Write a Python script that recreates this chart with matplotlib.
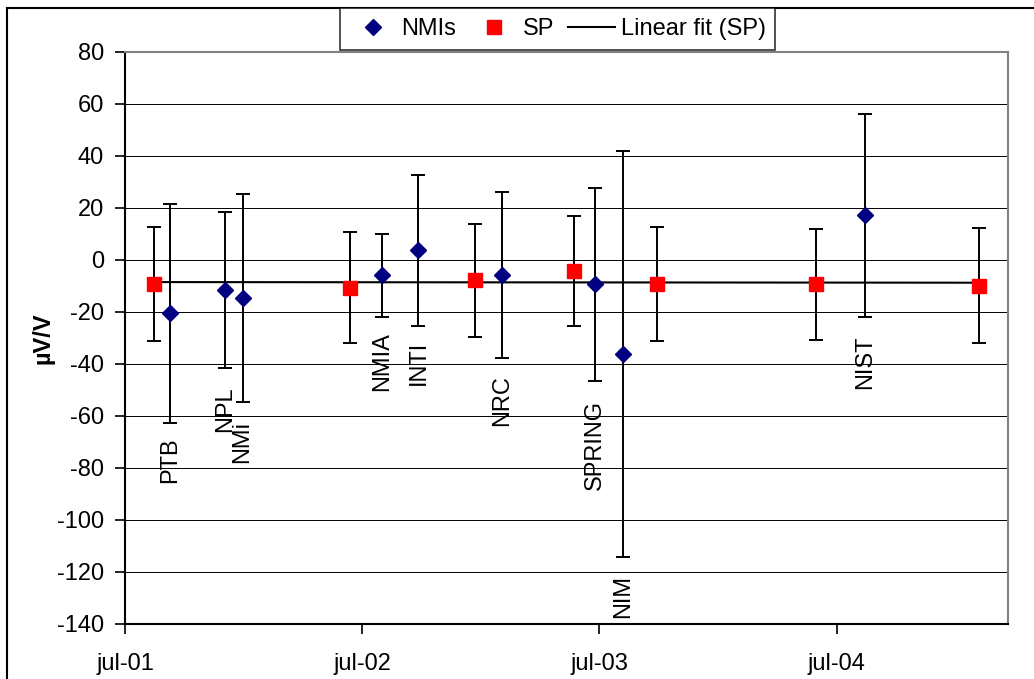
import matplotlib
matplotlib.use('Agg')
import matplotlib.pyplot as plt
import matplotlib.dates as mdates
from matplotlib.patches import Rectangle
import numpy as np
import pandas as pd

plt.rcParams['font.family'] = ['Liberation Sans', 'DejaVu Sans']
plt.rcParams['axes.unicode_minus'] = False

# ---- data ----
nmi_labels = ['PTB', 'NPL', 'NMi', 'NMIA', 'INTI', 'NRC', 'SPRING', 'NIM', 'NIST']
nmi_dates = ['2001-09-08', '2001-12-02', '2001-12-29', '2002-08-01', '2002-09-26',
             '2003-02-02', '2003-06-25', '2003-08-07', '2004-08-14']
nmi_values = [-20.5, -11.6, -14.6, -5.9, 3.7, -5.7, -9.4, -36.2, 17.2]
nmi_unc = [42, 30, 40, 16, 29, 32, 37, 78, 39]

sp_dates = ['2001-08-15', '2002-06-13', '2002-12-22', '2003-05-23', '2003-09-28',
            '2004-05-30', '2005-02-05']
sp_values = [-9.2, -10.6, -7.8, -4.2, -9.3, -9.3, -9.9]
sp_unc = [22, 21.5, 21.7, 21.3, 21.9, 21.3, 22.1]

tick_dates = ['2001-07-01', '2002-07-01', '2003-07-01', '2004-07-01']
tick_labels = ['jul-01', 'jul-02', 'jul-03', 'jul-04']
y_ticks = list(range(-140, 81, 20))

# label placement (vertical centre of each rotated name, in µV/V)
label_y = [-77, -57.5, -70, -39.2, -39.5, -54.2, -71.3, -129.4, -39.5]

# ---- figure ----
W, H = 1034, 679
fig = plt.figure(figsize=(W / 100, H / 100), dpi=100)
ax = fig.add_axes([125 / W, 1 - 624 / H, (1008 - 125) / W, (624 - 52) / H])

nmi_x = pd.to_datetime(nmi_dates)
sp_x = pd.to_datetime(sp_dates)

FS = 17

ax.errorbar(sp_x, sp_values, yerr=sp_unc, fmt='none', ecolor='black',
            elinewidth=1.4, capsize=5, capthick=1.4, zorder=3)
ax.errorbar(nmi_x, nmi_values, yerr=nmi_unc, fmt='none', ecolor='black',
            elinewidth=1.4, capsize=5, capthick=1.4, zorder=3)

# linear fit of SP
sp_num = mdates.date2num(sp_x)
coef = np.polyfit(sp_num, sp_values, 1)
fit_x = np.array([sp_num[0], sp_num[-1]])
fit_line, = ax.plot(mdates.num2date(fit_x), np.polyval(coef, fit_x),
                    color='black', lw=1.5, zorder=4, label='Linear fit (SP)')

nmi_h, = ax.plot(nmi_x, nmi_values, ls='none', marker='D', ms=8.2,
                 color='#000080', mec='#000080', zorder=6, label='NMIs')
sp_h, = ax.plot(sp_x, sp_values, ls='none', marker='s', ms=10,
                color='#FF0000', mec='#FF0000', zorder=5, label='SP')

for name, xd, yl in zip(nmi_labels, nmi_x, label_y):
    ax.text(xd, yl, name, rotation=90, ha='center', va='center',
            fontsize=FS, color='black', zorder=7)

ax.set_xlim(pd.Timestamp('2001-07-01'), pd.Timestamp('2005-03-22'))
ax.set_ylim(-140, 80)
ax.set_yticks(y_ticks)
ax.set_xticks(pd.to_datetime(tick_dates))
ax.set_xticklabels(tick_labels)
ax.tick_params(axis='both', direction='out', length=7, width=1.2,
               labelsize=FS, colors='black')
ax.tick_params(axis='y', pad=8)
ax.tick_params(axis='x', pad=14)

ax.yaxis.grid(True, color='#000000', lw=0.7)
ax.set_axisbelow(True)
for s in ['top', 'right']:
    ax.spines[s].set_color('#808080')
    ax.spines[s].set_linewidth(1.5)
for s in ['left', 'bottom']:
    ax.spines[s].set_color('black')
    ax.spines[s].set_linewidth(1.5)

ax.set_ylabel('µV/V', fontsize=FS, fontweight='bold')
ax.yaxis.set_label_coords((55 - 125) / 883, 0.5)

leg = fig.legend(handles=[nmi_h, sp_h, fit_line], loc='upper center',
                 bbox_to_anchor=(557.5 / W, 1 - 8 / H), ncol=3, fontsize=FS,
                 frameon=True, fancybox=False, edgecolor='black',
                 handlelength=1.96, handletextpad=0.25, columnspacing=0.6,
                 borderpad=0.42, borderaxespad=0)
leg.get_frame().set_linewidth(1.2)

# outer chart frame (cut by the image edge on the right and bottom)
fig.add_artist(Rectangle((7 / W, -0.2), 1.3, 1 - 8 / H + 0.2,
                         transform=fig.transFigure, fill=False,
                         edgecolor='black', lw=1.5))

fig.savefig('out.png', dpi=100)
